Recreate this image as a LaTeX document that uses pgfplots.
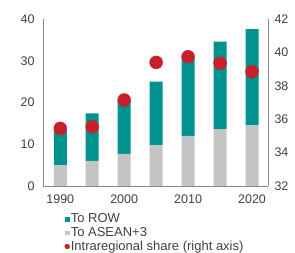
\documentclass[border=0pt]{standalone}
\usepackage{pgfplots}
\pgfplotsset{compat=1.18}
\usepackage{fontspec}
\setmainfont{Liberation Sans}
\definecolor{teal}{HTML}{00928F}
\definecolor{lgray}{HTML}{C4C4C4}
\definecolor{dred}{HTML}{C8202A}
\definecolor{axgray}{HTML}{8A8580}
\definecolor{txt}{HTML}{404040}
\begin{document}
\begin{tikzpicture}
\pgfplotsset{
  common/.style={
    scale only axis, width=225pt, height=167pt,
    at={(0,0)}, anchor=south west,
    xmin=1987.3, xmax=2022.5,
    tick style={draw=none},
    axis line style={axgray, line width=0.8pt},
    tick label style={font=\fontsize{12.5}{13}\selectfont, text=txt},
    /pgf/number format/assume math mode=true,
  }
}
\begin{axis}[common,
  axis x line*=bottom, axis y line*=left,
  ymin=0, ymax=40, ytick={0,10,20,30,40},
  xtick={1990,2000,2010,2020},
  xticklabel style={/pgf/number format/1000 sep={}, yshift=-5pt},
  yticklabel style={xshift=-5pt},
  ybar stacked, bar width=13pt,
]
\addplot[fill=lgray, draw=none] coordinates {(1990,5.0) (1995,6.0) (2000,7.7) (2005,9.7) (2010,12.0) (2015,13.6) (2020,14.6)};
\addplot[fill=teal, draw=none] coordinates {(1990,8.4) (1995,11.4) (2000,12.8) (2005,15.3) (2010,18.5) (2015,21.0) (2020,23.0)};
\end{axis}
\begin{axis}[common,
  axis x line=none, axis y line*=right,
  ymin=32, ymax=42, ytick={32,34,36,38,40,42},
  yticklabel style={xshift=3pt},
  legend style={at={(0.095,-0.16)}, anchor=north west, draw=none, fill=none,
    font=\fontsize{13}{14}\selectfont, text=txt, row sep=1pt,
    inner sep=0pt, nodes={inner sep=1pt}},
  legend cell align=left,
  legend image code/.code={},
]
\addlegendimage{legend image code/.code={\fill[teal] (0.1cm,-0.06cm) rectangle (0.22cm,0.06cm);}}
\addlegendentry{To ROW}
\addlegendimage{legend image code/.code={\fill[lgray] (0.1cm,-0.06cm) rectangle (0.22cm,0.06cm);}}
\addlegendentry{To ASEAN+3}
\addlegendimage{legend image code/.code={\fill[dred] (0.16cm,0) circle (0.085cm);}}
\addlegendentry{Intraregional share (right axis)}
\addplot[only marks, mark=*, mark size=6.5pt, dred, mark options={draw=dred, fill=dred}] coordinates {(1990,35.45) (1995,35.55) (2000,37.15) (2005,39.4) (2010,39.74) (2015,39.35) (2020,38.85)};
\end{axis}
\path[use as bounding box] (-43pt,-67pt) rectangle (252pt,186pt);
\end{tikzpicture}
\end{document}
